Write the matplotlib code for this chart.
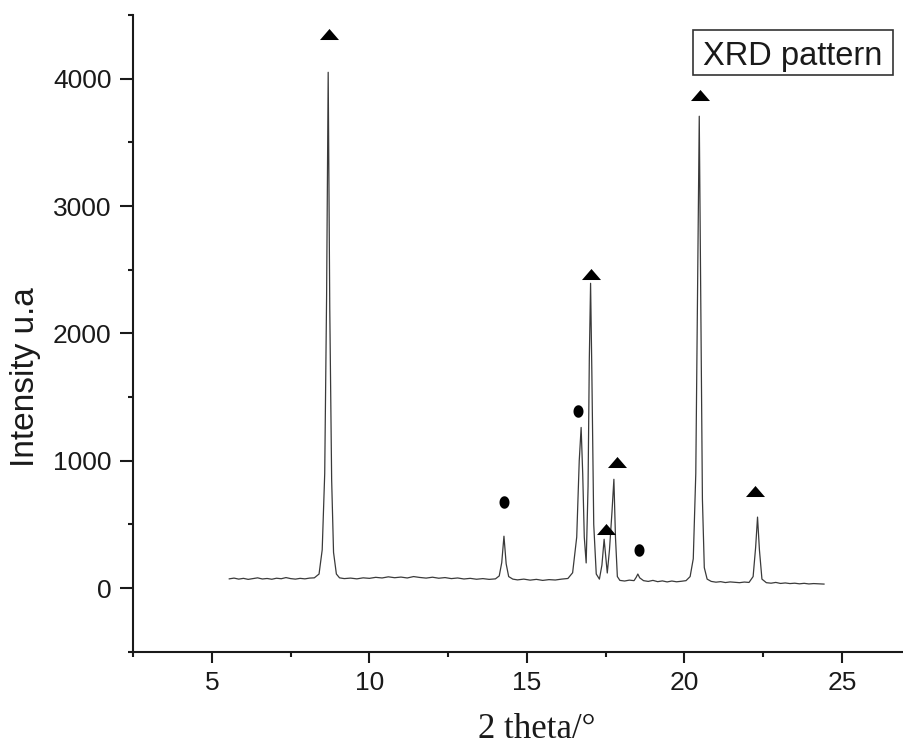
import numpy as np
import matplotlib
matplotlib.use("Agg")
import matplotlib.pyplot as plt
from matplotlib.patches import Rectangle
from matplotlib.ticker import MultipleLocator

plt.rcParams['font.family'] = ['Liberation Sans', 'DejaVu Sans']

# XRD trace (2 theta in degrees, intensity)
two_theta = [5.55, 5.7, 5.85, 6.0, 6.15, 6.3, 6.45, 6.6, 6.75, 6.9, 7.05, 7.2, 7.35, 7.5, 7.65,
             7.8, 7.95, 8.1, 8.25, 8.4, 8.5, 8.58, 8.64, 8.69, 8.74, 8.8, 8.86, 8.95, 9.05,
             9.2, 9.4, 9.6, 9.8, 10.0, 10.2, 10.4, 10.6, 10.8, 11.0, 11.2, 11.4, 11.6, 11.8,
             12.0, 12.2, 12.4, 12.6, 12.8, 13.0, 13.2, 13.4, 13.6, 13.8, 14.0, 14.12, 14.2,
             14.27, 14.34, 14.42, 14.55, 14.7, 14.9, 15.1, 15.3, 15.5, 15.7, 15.9, 16.1, 16.3,
             16.45, 16.58, 16.66, 16.72, 16.77, 16.82, 16.88, 16.94, 16.98, 17.02, 17.06,
             17.12, 17.2, 17.3, 17.38, 17.45, 17.5, 17.55, 17.62, 17.7, 17.76, 17.81, 17.87,
             17.95, 18.1, 18.25, 18.4, 18.47, 18.52, 18.58, 18.7, 18.85, 19.0, 19.15, 19.3,
             19.45, 19.6, 19.75, 19.9, 20.05, 20.18, 20.28, 20.36, 20.42, 20.47, 20.52, 20.57,
             20.63, 20.72, 20.85, 21.0, 21.15, 21.3, 21.45, 21.6, 21.75, 21.9, 22.05, 22.18,
             22.26, 22.32, 22.38, 22.46, 22.6, 22.75, 22.9, 23.05, 23.2, 23.35, 23.5, 23.65,
             23.8, 23.95, 24.1, 24.25, 24.43]
intensity = [72, 78, 70, 76, 68, 74, 80, 71, 75, 69, 77, 73, 82, 74, 70,
             76, 72, 78, 80, 110, 300, 900, 2300, 4050, 2200, 850, 280, 110, 80,
             74, 78, 72, 80, 76, 84, 79, 88, 81, 86, 79, 90, 83, 78,
             85, 77, 82, 74, 79, 71, 76, 69, 74, 68, 72, 95, 200,
             407, 190, 90, 70, 64, 70, 62, 68, 60, 66, 63, 70, 75,
             120, 400, 1000, 1261, 900, 400, 197, 800, 1800, 2393, 1700,
             500, 110, 70, 180, 383, 250, 118, 300, 600, 854, 400, 90,
             60, 55, 62, 58, 85, 110, 80, 58, 52, 60, 50, 56,
             48, 55, 49, 53, 58, 90, 230, 900, 2400, 3705, 2200, 700,
             160, 70, 52, 46, 50, 43, 48, 45, 42, 47, 44, 90,
             320, 557, 300, 70, 42, 38, 44, 36, 40, 35, 38, 33,
             37, 32, 35, 33, 31]

# peak labels
tri_x = [8.72, 17.03, 17.52, 17.85, 20.49, 22.24]
tri_y = [4350, 2470, 462, 993, 3873, 764]
dot_x = [14.27, 16.63, 18.56]
dot_y = [678, 1392, 302]

fig = plt.figure(figsize=(9.04, 7.49), dpi=100)
ax = fig.add_axes([133.2 / 904, 1 - 651.7 / 749, 1 - 133.2 / 904, (651.7 - 15) / 749])

ax.plot(two_theta, intensity, color='#3a3a3a', lw=0.9)

tri_marker = [(-1, -0.58), (1, -0.58), (0, 0.58), (-1, -0.58)]
dot_marker = [(0.8 * np.cos(t), np.sin(t)) for t in np.linspace(0, 2 * np.pi, 40)]
ax.plot(tri_x, tri_y, ls='none', marker=tri_marker, ms=13.7, color='black', mec='none')
ax.plot(dot_x, dot_y, ls='none', marker=dot_marker, ms=9.0, color='black', mec='none')

ax.set_xlim(2.5, 2.5 + (904 - 133.2) / 31.5)
ax.set_ylim(-500, 4500)
ax.xaxis.set_major_locator(MultipleLocator(5))
ax.xaxis.set_minor_locator(MultipleLocator(2.5))
ax.yaxis.set_major_locator(MultipleLocator(1000))
ax.yaxis.set_minor_locator(MultipleLocator(500))

for s in ['top', 'right']:
    ax.spines[s].set_visible(False)
for s in ['left', 'bottom']:
    ax.spines[s].set_linewidth(1.5)
    ax.spines[s].set_color('#1a1a1a')

ax.tick_params(axis='x', which='major', length=8, width=1.5, pad=6, labelsize=19, colors='#1a1a1a')
ax.tick_params(axis='y', which='major', length=9.5, width=1.5, pad=6, labelsize=19, colors='#1a1a1a')
ax.tick_params(which='minor', length=3.6, width=1.5, color='#1a1a1a')

fig.text(26 / 904, 1 - 377 / 749, 'Intensity u.a', rotation=90, ha='center', va='center',
         fontsize=24, color='#1a1a1a')
fig.text(537 / 904, 1 - 738 / 749, '2 theta/\u00b0', ha='center', va='baseline',
         fontsize=25, family=['Liberation Serif', 'DejaVu Serif'], color='#1a1a1a')

fig.patches.append(Rectangle((693 / 904, 1 - 75 / 749), 200 / 904, 45 / 749,
                             transform=fig.transFigure, fill=False, ec='#333333', lw=1.2))
fig.text(793 / 904, 1 - 65 / 749, 'XRD pattern', ha='center', va='baseline',
         fontsize=23.5, color='#1a1a1a')

fig.savefig('out.png', dpi=100)
